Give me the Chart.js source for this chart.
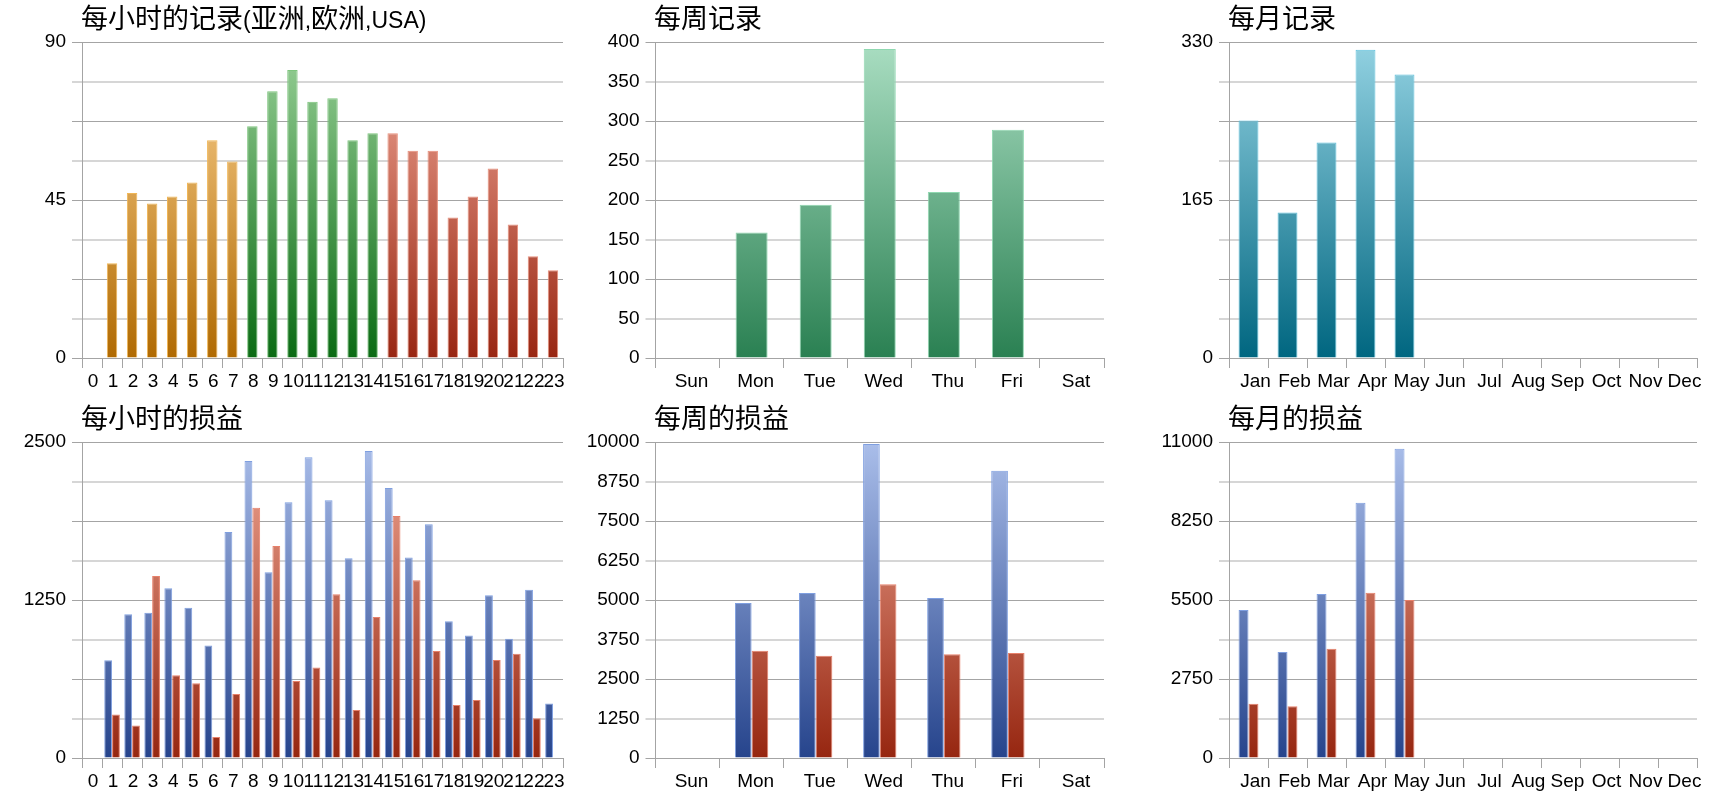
<!DOCTYPE html>
<html>
<head>
<meta charset="utf-8">
<title>记录与损益</title>
<script src="https://cdn.jsdelivr.net/npm/chart.js@4.4.1/dist/chart.umd.min.js"></script>
<style>
  html, body { margin: 0; padding: 0; background: #fff; }
  body { width: 1720px; height: 800px; position: relative; overflow: hidden; }
  canvas { position: absolute; }
  .title { position: absolute; font: 23px "Liberation Sans", Arial, sans-serif; line-height: 32px; white-space: nowrap; color: #000; }
  .cjk { font-family: "Noto Sans CJK SC", sans-serif; font-size: 27px; }
</style>
</head>
<body>
<canvas id="hourCount" width="580" height="400" style="left:0;top:0"></canvas>
<canvas id="weekCount" width="570" height="400" style="left:580px;top:0"></canvas>
<canvas id="monthCount" width="570" height="400" style="left:1150px;top:0"></canvas>
<canvas id="hourPnl" width="580" height="400" style="left:0;top:400px"></canvas>
<canvas id="weekPnl" width="570" height="400" style="left:580px;top:400px"></canvas>
<canvas id="monthPnl" width="570" height="400" style="left:1150px;top:400px"></canvas>

<div class="title" style="left:81px;top:1px"><span class="cjk">每小时的记录</span>(<span class="cjk">亚洲</span>,<span class="cjk">欧洲</span>,USA)</div>
<div class="title" style="left:654px;top:1px"><span class="cjk">每周记录</span></div>
<div class="title" style="left:1228px;top:1px"><span class="cjk">每月记录</span></div>
<div class="title" style="left:81px;top:401px"><span class="cjk">每小时的损益</span></div>
<div class="title" style="left:654px;top:401px"><span class="cjk">每周的损益</span></div>
<div class="title" style="left:1228px;top:401px"><span class="cjk">每月的损益</span></div>

<script>
// categories
const hours = ['0', '1', '2', '3', '4', '5', '6', '7', '8', '9', '10', '11',
               '12', '13', '14', '15', '16', '17', '18', '19', '20', '21', '22', '23'];
const weekdays = ['Sun', 'Mon', 'Tue', 'Wed', 'Thu', 'Fri', 'Sat'];
const months = ['Jan', 'Feb', 'Mar', 'Apr', 'May', 'Jun', 'Jul', 'Aug', 'Sep', 'Oct', 'Nov', 'Dec'];

// record counts
const hourRecords = [0, 27, 47, 44, 46, 50, 62, 56, 66, 76, 82, 73, 74, 62, 64, 64, 59, 59, 40, 46, 54, 38, 29, 25];
const weekRecords = [0, 159, 194, 391, 210, 289, 0];
const monthRecords = [248, 152, 225, 322, 296, 0, 0, 0, 0, 0, 0, 0];

// profit / loss
const hourProfit = [0, 773, 1137, 1150, 1342, 1189, 891, 1788, 2350, 1469, 2023, 2379,
                    2039, 1580, 2429, 2136, 1587, 1849, 1081, 970, 1287, 944, 1332, 432];
const hourLoss = [0, 345, 258, 1440, 654, 591, 166, 506, 1980, 1677, 609, 715,
                  1295, 380, 1115, 1914, 1406, 846, 419, 459, 775, 825, 314, 0];
const weekProfit = [0, 4905, 5222, 9937, 5063, 9093, 0];
const weekLoss = [0, 3397, 3238, 5496, 3281, 3323, 0];
const monthProfit = [5152, 3690, 5709, 8888, 10768, 0, 0, 0, 0, 0, 0, 0];
const monthLoss = [1891, 1799, 3806, 5755, 5500, 0, 0, 0, 0, 0, 0, 0];

// labelled y ticks (gridlines every 1/8 of the max)
const hourRecordTicks = [0, 45, 90];
const weekRecordTicks = [0, 50, 100, 150, 200, 250, 300, 350, 400];
const monthRecordTicks = [0, 165, 330];
const hourPnlTicks = [0, 1250, 2500];
const weekPnlTicks = [0, 1250, 2500, 3750, 5000, 6250, 7500, 8750, 10000];
const monthPnlTicks = [0, 2750, 5500, 8250, 11000];

const axisFont = { family: '"Liberation Sans", Arial, sans-serif', size: 19 };
const darkLine = '#a4a4a4';
const lightLine = '#d6d6d6';

// [bottom, top, border]
const palette = {
    asia: ['#b06a02', '#ffd696', '#f0b656'],
    europe: ['#0b6b14', '#99d198', '#7cc47c'],
    usa: ['#982612', '#f4ac9b', '#e8907c'],
    week: ['#2a8052', '#aadec2', '#8fd8b0'],
    month: ['#006680', '#93d2e2', '#5ec0dc'],
    profit: ['#26448c', '#aabeea', '#7f9fe0'],
    loss: ['#962610', '#f1a996', '#e8806a']
};

function vGrad(chart, name) {
    const area = chart.chartArea;
    const p = palette[name];
    if (!area) return p[0];
    const g = chart.ctx.createLinearGradient(0, area.bottom, 0, area.top);
    g.addColorStop(0, p[0]);
    g.addColorStop(1, p[1]);
    return g;
}

function hourRegion(i) {
    return i < 8 ? 'asia' : (i < 15 ? 'europe' : 'usa');
}

function yScale(labelled, width) {
    const max = labelled[labelled.length - 1];
    return {
        min: 0,
        max: max,
        afterFit: s => { s.width = width; },
        ticks: {
            stepSize: max / 8,
            padding: 6,
            color: '#000',
            font: axisFont,
            autoSkip: false,
            callback: v => labelled.some(t => Math.abs(t - v) < 1e-6) ? String(v) : ''
        },
        grid: {
            color: c => (c.index % 2 ? lightLine : darkLine),
            lineWidth: c => (c.index % 2 ? 2 : 1),
            tickLength: 10
        },
        border: { color: darkLine }
    };
}

function xScale(offset) {
    return {
        // tall enough that Chart.js does not clip the label descenders
        afterFit: s => { s.height = 40; },
        ticks: {
            color: '#000',
            font: axisFont,
            autoSkip: false,
            maxRotation: 0,
            minRotation: 0,
            padding: 2,
            labelOffset: offset
        },
        grid: { drawOnChartArea: false, offset: true, tickLength: 10, color: darkLine },
        border: { color: darkLine }
    };
}

function barSet(values, name, pct) {
    return {
        data: values,
        backgroundColor: c => vGrad(c.chart, name),
        borderColor: palette[name][2],
        borderWidth: 1,
        borderSkipped: 'start',
        categoryPercentage: pct,
        barPercentage: 1
    };
}

function makeChart(id, labels, datasets, labelled, yWidth, rightPad, labelOffset) {
    return new Chart(document.getElementById(id), {
        type: 'bar',
        data: { labels: labels, datasets: datasets },
        options: {
            responsive: false,
            animation: false,
            layout: { padding: { top: 42, right: rightPad, bottom: 2, left: 0 } },
            plugins: { legend: { display: false }, tooltip: { enabled: false }, title: { display: false } },
            scales: { x: xScale(labelOffset), y: yScale(labelled, yWidth) }
        }
    });
}

const hourSet = {
    data: hourRecords,
    backgroundColor: c => vGrad(c.chart, hourRegion(c.dataIndex)),
    borderColor: c => palette[hourRegion(c.dataIndex)][2],
    borderWidth: 1,
    borderSkipped: 'start',
    categoryPercentage: 0.52,
    barPercentage: 1
};

makeChart('hourCount', hours, [hourSet], hourRecordTicks, 82, 17, 1);
makeChart('weekCount', weekdays, [barSet(weekRecords, 'week', 0.5)], weekRecordTicks, 75.5, 46, 4);
makeChart('monthCount', months, [barSet(monthRecords, 'month', 0.51)], monthRecordTicks, 79, 23, 7);

makeChart('hourPnl', hours,
    [barSet(hourProfit, 'profit', 0.78), barSet(hourLoss, 'loss', 0.78)],
    hourPnlTicks, 82, 17, 1);
makeChart('weekPnl', weekdays,
    [barSet(weekProfit, 'profit', 0.52), barSet(weekLoss, 'loss', 0.52)],
    weekPnlTicks, 75.5, 46, 4);
makeChart('monthPnl', months,
    [barSet(monthProfit, 'profit', 0.51), barSet(monthLoss, 'loss', 0.51)],
    monthPnlTicks, 79, 23, 7);
</script>
</body>
</html>
